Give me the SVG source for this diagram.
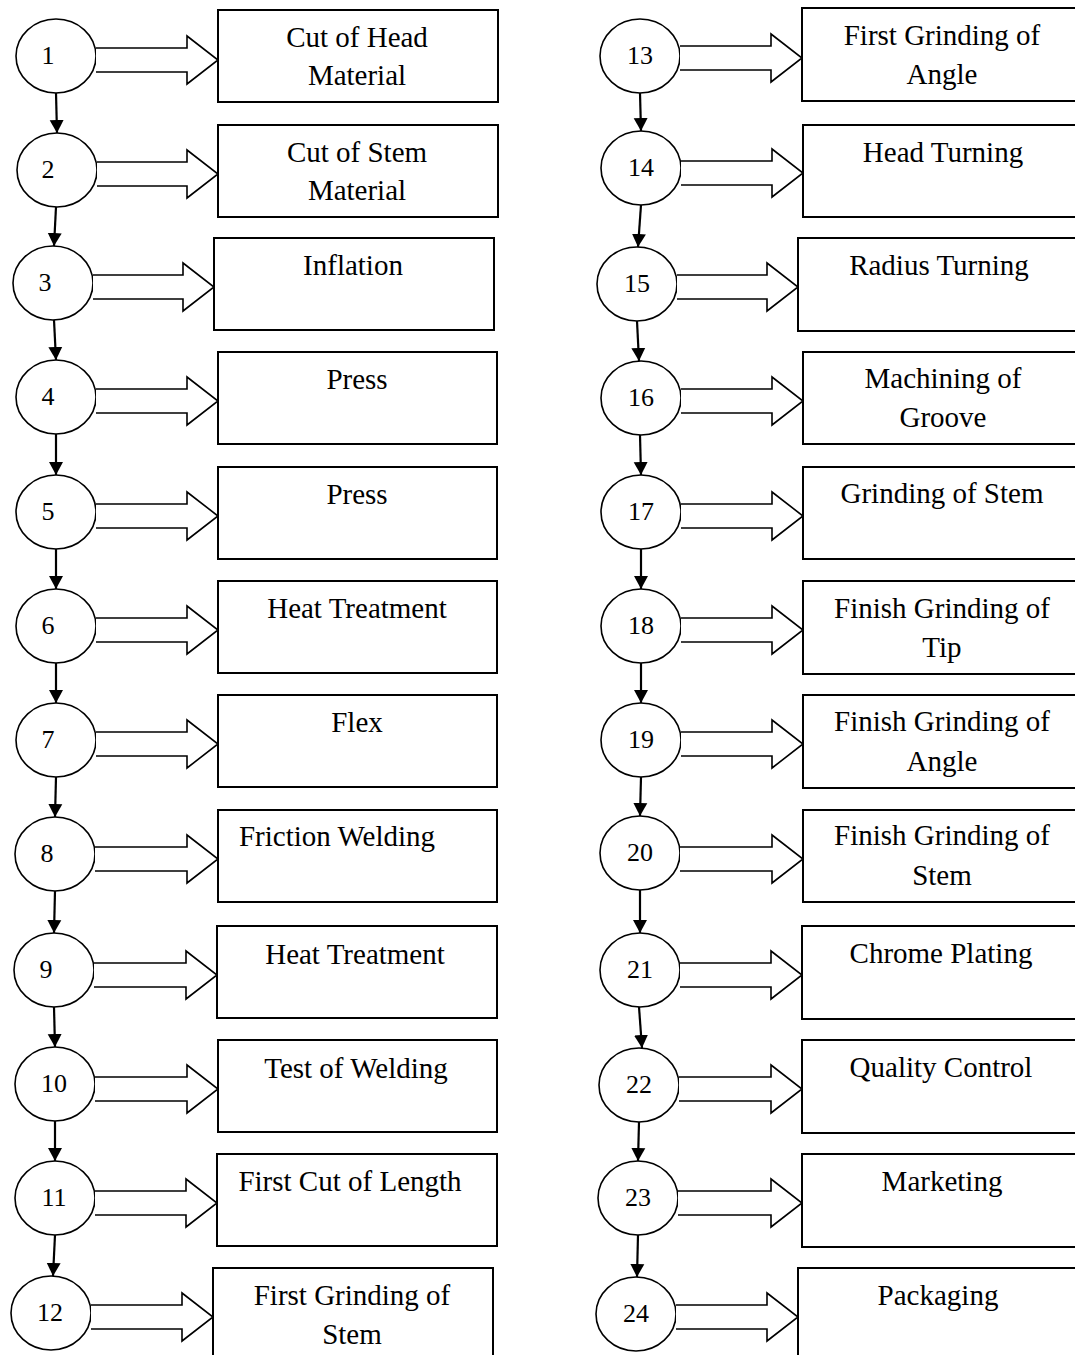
<svg xmlns="http://www.w3.org/2000/svg" width="1075" height="1355" viewBox="0 0 1075 1355">
<style>
.bg{fill:#fff}
.box{fill:#fff;stroke:#000;stroke-width:2}
.circ{fill:#fff;stroke:#000;stroke-width:1.6}
.blk{fill:#fff;stroke:#000;stroke-width:1.6;stroke-linejoin:miter}
.con{stroke:#000;stroke-width:2.2;fill:none}
.lbl{font-family:"Liberation Serif","Times New Roman",serif;font-size:29px;fill:#000;text-anchor:middle}
.num{font-family:"Liberation Serif","Times New Roman",serif;font-size:26px;fill:#000;text-anchor:middle}
</style>
<defs>
<marker id="ah" markerUnits="userSpaceOnUse" markerWidth="16" markerHeight="16" viewBox="0 0 16 16" refX="13" refY="8" orient="auto">
<path d="M0,1 L13,8 L0,15 Z" fill="#000"/>
</marker>
</defs>
<rect class="bg" x="0" y="0" width="1075" height="1355"/>

<g id="connectors">
<line class="con" x1="56" y1="93" x2="57" y2="133" marker-end="url(#ah)"/>
<line class="con" x1="56" y1="207" x2="54" y2="246" marker-end="url(#ah)"/>
<line class="con" x1="54" y1="320" x2="56" y2="360" marker-end="url(#ah)"/>
<line class="con" x1="56" y1="434" x2="56" y2="475" marker-end="url(#ah)"/>
<line class="con" x1="56" y1="549" x2="56" y2="589" marker-end="url(#ah)"/>
<line class="con" x1="56" y1="663" x2="56" y2="703" marker-end="url(#ah)"/>
<line class="con" x1="56" y1="777" x2="55" y2="817" marker-end="url(#ah)"/>
<line class="con" x1="55" y1="891" x2="54" y2="933" marker-end="url(#ah)"/>
<line class="con" x1="54" y1="1007" x2="55" y2="1047" marker-end="url(#ah)"/>
<line class="con" x1="55" y1="1121" x2="55" y2="1161" marker-end="url(#ah)"/>
<line class="con" x1="55" y1="1235" x2="53" y2="1276" marker-end="url(#ah)"/>

<line class="con" x1="640" y1="93" x2="641" y2="131" marker-end="url(#ah)"/>
<line class="con" x1="641" y1="205" x2="638" y2="247" marker-end="url(#ah)"/>
<line class="con" x1="637" y1="321" x2="639" y2="361" marker-end="url(#ah)"/>
<line class="con" x1="640" y1="435" x2="641" y2="475" marker-end="url(#ah)"/>
<line class="con" x1="641" y1="549" x2="641" y2="589" marker-end="url(#ah)"/>
<line class="con" x1="641" y1="663" x2="641" y2="703" marker-end="url(#ah)"/>
<line class="con" x1="641" y1="777" x2="640" y2="816" marker-end="url(#ah)"/>
<line class="con" x1="640" y1="890" x2="640" y2="933" marker-end="url(#ah)"/>
<line class="con" x1="639" y1="1007" x2="642" y2="1048" marker-end="url(#ah)"/>
<line class="con" x1="639" y1="1122" x2="638" y2="1161" marker-end="url(#ah)"/>
<line class="con" x1="638" y1="1235" x2="637" y2="1277" marker-end="url(#ah)"/>
</g>

<!-- Left column -->
<g id="node1">
<ellipse class="circ" cx="56" cy="56" rx="40" ry="37"/>
<text class="num" x="48" y="64">1</text>
<path class="blk" d="M96,48 H187 V36 L218,60 L187,84 V72 H96"/>
<rect class="box" x="218" y="10" width="280" height="92"/>
<text class="lbl" x="357" y="47">Cut of Head</text>
<text class="lbl" x="357" y="85">Material</text>
</g>
<g id="node2">
<ellipse class="circ" cx="57" cy="170" rx="40" ry="37"/>
<text class="num" x="48" y="178">2</text>
<path class="blk" d="M97,162 H187 V150 L218,174 L187,198 V186 H97"/>
<rect class="box" x="218" y="125" width="280" height="92"/>
<text class="lbl" x="357" y="162">Cut of Stem</text>
<text class="lbl" x="357" y="200">Material</text>
</g>
<g id="node3">
<ellipse class="circ" cx="53" cy="283" rx="40" ry="37"/>
<text class="num" x="45" y="291">3</text>
<path class="blk" d="M93,275 H183 V263 L214,287 L183,311 V299 H93"/>
<rect class="box" x="214" y="238" width="280" height="92"/>
<text class="lbl" x="353" y="275">Inflation</text>
</g>
<g id="node4">
<ellipse class="circ" cx="56" cy="397" rx="40" ry="37"/>
<text class="num" x="48" y="405">4</text>
<path class="blk" d="M96,389 H187 V377 L218,401 L187,425 V413 H96"/>
<rect class="box" x="218" y="352" width="279" height="92"/>
<text class="lbl" x="357" y="389">Press</text>
</g>
<g id="node5">
<ellipse class="circ" cx="56" cy="512" rx="40" ry="37"/>
<text class="num" x="48" y="520">5</text>
<path class="blk" d="M96,504 H187 V492 L218,516 L187,540 V528 H96"/>
<rect class="box" x="218" y="467" width="279" height="92"/>
<text class="lbl" x="357" y="504">Press</text>
</g>
<g id="node6">
<ellipse class="circ" cx="56" cy="626" rx="40" ry="37"/>
<text class="num" x="48" y="634">6</text>
<path class="blk" d="M96,618 H187 V606 L218,630 L187,654 V642 H96"/>
<rect class="box" x="218" y="581" width="279" height="92"/>
<text class="lbl" x="357" y="618">Heat Treatment</text>
</g>
<g id="node7">
<ellipse class="circ" cx="56" cy="740" rx="40" ry="37"/>
<text class="num" x="48" y="748">7</text>
<path class="blk" d="M96,732 H187 V720 L218,744 L187,768 V756 H96"/>
<rect class="box" x="218" y="695" width="279" height="92"/>
<text class="lbl" x="357" y="732">Flex</text>
</g>
<g id="node8">
<ellipse class="circ" cx="55" cy="854" rx="40" ry="37"/>
<text class="num" x="47" y="862">8</text>
<path class="blk" d="M95,847 H187 V835 L218,859 L187,883 V871 H95"/>
<rect class="box" x="218" y="810" width="279" height="92"/>
<text class="lbl" x="337" y="846">Friction Welding</text>
</g>
<g id="node9">
<ellipse class="circ" cx="54" cy="970" rx="40" ry="37"/>
<text class="num" x="46" y="978">9</text>
<path class="blk" d="M94,963 H186 V951 L217,975 L186,999 V987 H94"/>
<rect class="box" x="217" y="926" width="280" height="92"/>
<text class="lbl" x="355" y="964">Heat Treatment</text>
</g>
<g id="node10">
<ellipse class="circ" cx="55" cy="1084" rx="40" ry="37"/>
<text class="num" x="54" y="1092">10</text>
<path class="blk" d="M95,1077 H187 V1065 L218,1089 L187,1113 V1101 H95"/>
<rect class="box" x="218" y="1040" width="279" height="92"/>
<text class="lbl" x="356" y="1078">Test of Welding</text>
</g>
<g id="node11">
<ellipse class="circ" cx="55" cy="1198" rx="40" ry="37"/>
<text class="num" x="54" y="1206">11</text>
<path class="blk" d="M95,1191 H186 V1179 L217,1203 L186,1227 V1215 H95"/>
<rect class="box" x="217" y="1154" width="280" height="92"/>
<text class="lbl" x="350" y="1191">First Cut of Length</text>
</g>
<g id="node12">
<ellipse class="circ" cx="51" cy="1313" rx="40" ry="37"/>
<text class="num" x="50" y="1321">12</text>
<path class="blk" d="M91,1305 H182 V1293 L213,1317 L182,1341 V1329 H91"/>
<rect class="box" x="213" y="1268" width="280" height="100"/>
<text class="lbl" x="352" y="1305">First Grinding of</text>
<text class="lbl" x="352" y="1344">Stem</text>
</g>

<!-- Right column -->
<g id="node13">
<ellipse class="circ" cx="640" cy="56" rx="40" ry="37"/>
<text class="num" x="640" y="64">13</text>
<path class="blk" d="M680,46 H771 V34 L802,58 L771,82 V70 H680"/>
<rect class="box" x="802" y="8" width="290" height="93"/>
<text class="lbl" x="942" y="45">First Grinding of</text>
<text class="lbl" x="942" y="84">Angle</text>
</g>
<g id="node14">
<ellipse class="circ" cx="641" cy="168" rx="40" ry="37"/>
<text class="num" x="641" y="176">14</text>
<path class="blk" d="M681,161 H772 V149 L803,173 L772,197 V185 H681"/>
<rect class="box" x="803" y="125" width="290" height="92"/>
<text class="lbl" x="943" y="162">Head Turning</text>
</g>
<g id="node15">
<ellipse class="circ" cx="637" cy="284" rx="40" ry="37"/>
<text class="num" x="637" y="292">15</text>
<path class="blk" d="M677,275 H767 V263 L798,287 L767,311 V299 H677"/>
<rect class="box" x="798" y="238" width="290" height="93"/>
<text class="lbl" x="939" y="275">Radius Turning</text>
</g>
<g id="node16">
<ellipse class="circ" cx="641" cy="398" rx="40" ry="37"/>
<text class="num" x="641" y="406">16</text>
<path class="blk" d="M681,389 H772 V377 L803,401 L772,425 V413 H681"/>
<rect class="box" x="803" y="352" width="290" height="92"/>
<text class="lbl" x="943" y="388">Machining of</text>
<text class="lbl" x="943" y="427">Groove</text>
</g>
<g id="node17">
<ellipse class="circ" cx="641" cy="512" rx="40" ry="37"/>
<text class="num" x="641" y="520">17</text>
<path class="blk" d="M681,504 H772 V492 L803,516 L772,540 V528 H681"/>
<rect class="box" x="803" y="467" width="290" height="92"/>
<text class="lbl" x="942" y="503">Grinding of Stem</text>
</g>
<g id="node18">
<ellipse class="circ" cx="641" cy="626" rx="40" ry="37"/>
<text class="num" x="641" y="634">18</text>
<path class="blk" d="M681,618 H772 V606 L803,630 L772,654 V642 H681"/>
<rect class="box" x="803" y="581" width="290" height="93"/>
<text class="lbl" x="942" y="618">Finish Grinding of</text>
<text class="lbl" x="942" y="657">Tip</text>
</g>
<g id="node19">
<ellipse class="circ" cx="641" cy="740" rx="40" ry="37"/>
<text class="num" x="641" y="748">19</text>
<path class="blk" d="M681,732 H772 V720 L803,744 L772,768 V756 H681"/>
<rect class="box" x="803" y="695" width="290" height="93"/>
<text class="lbl" x="942" y="731">Finish Grinding of</text>
<text class="lbl" x="942" y="771">Angle</text>
</g>
<g id="node20">
<ellipse class="circ" cx="640" cy="853" rx="40" ry="37"/>
<text class="num" x="640" y="861">20</text>
<path class="blk" d="M680,847 H772 V835 L803,859 L772,883 V871 H680"/>
<rect class="box" x="803" y="810" width="290" height="92"/>
<text class="lbl" x="942" y="845">Finish Grinding of</text>
<text class="lbl" x="942" y="885">Stem</text>
</g>
<g id="node21">
<ellipse class="circ" cx="640" cy="970" rx="40" ry="37"/>
<text class="num" x="640" y="978">21</text>
<path class="blk" d="M680,963 H771 V951 L802,975 L771,999 V987 H680"/>
<rect class="box" x="802" y="926" width="290" height="93"/>
<text class="lbl" x="941" y="963">Chrome Plating</text>
</g>
<g id="node22">
<ellipse class="circ" cx="639" cy="1085" rx="40" ry="37"/>
<text class="num" x="639" y="1093">22</text>
<path class="blk" d="M679,1077 H771 V1065 L802,1089 L771,1113 V1101 H679"/>
<rect class="box" x="802" y="1040" width="290" height="93"/>
<text class="lbl" x="941" y="1077">Quality Control</text>
</g>
<g id="node23">
<ellipse class="circ" cx="638" cy="1198" rx="40" ry="37"/>
<text class="num" x="638" y="1206">23</text>
<path class="blk" d="M678,1191 H771 V1179 L802,1203 L771,1227 V1215 H678"/>
<rect class="box" x="802" y="1154" width="290" height="93"/>
<text class="lbl" x="942" y="1191">Marketing</text>
</g>
<g id="node24">
<ellipse class="circ" cx="636" cy="1314" rx="40" ry="37"/>
<text class="num" x="636" y="1322">24</text>
<path class="blk" d="M676,1305 H767 V1293 L798,1317 L767,1341 V1329 H676"/>
<rect class="box" x="798" y="1268" width="290" height="100"/>
<text class="lbl" x="938" y="1305">Packaging</text>
</g>
</svg>
